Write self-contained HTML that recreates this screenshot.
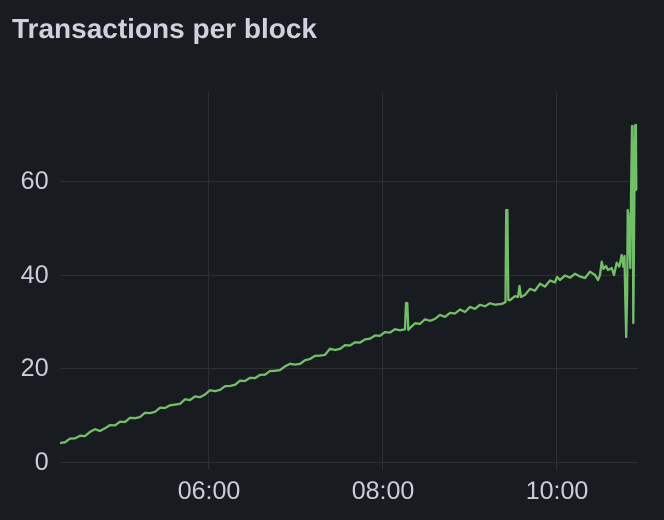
<!DOCTYPE html>
<html><head><meta charset="utf-8"><style>
html,body{margin:0;padding:0;background:#181b1f;}
svg{display:block;}
text{font-family:"Liberation Sans",sans-serif;fill:#ccccdc;}
</style></head><body>
<svg width="664" height="520" viewBox="0 0 664 520" xmlns="http://www.w3.org/2000/svg">
<rect x="0" y="0" width="664" height="520" fill="#181b1f"/>
<text x="12" y="38" font-size="28" font-weight="bold" style="fill:#d0d0de">Transactions per block</text>
<g stroke="#2c2f34" stroke-width="1" shape-rendering="crispEdges">
<line x1="60" y1="181.5" x2="638" y2="181.5"/>
<line x1="60" y1="275.5" x2="638" y2="275.5"/>
<line x1="60" y1="368.5" x2="638" y2="368.5"/>
<line x1="60" y1="462.5" x2="638" y2="462.5"/>
<line x1="208.5" y1="92" x2="208.5" y2="470"/>
<line x1="382.5" y1="92" x2="382.5" y2="470"/>
<line x1="556.5" y1="92" x2="556.5" y2="470"/>
</g>
<g font-size="25" text-anchor="end" letter-spacing="0.3">
<text x="49" y="189">60</text>
<text x="49" y="283">40</text>
<text x="49" y="376">20</text>
<text x="49" y="470">0</text>
</g>
<g font-size="25" text-anchor="middle">
<text x="209" y="499">06:00</text>
<text x="383" y="499">08:00</text>
<text x="557" y="499">10:00</text>
</g>
<path fill="none" stroke="#73bf69" stroke-width="2.3" stroke-linejoin="round" d="M60,443 L65,442.3 L70,438.6 L75,438.4 L80,435.7 L85,436.1 L90,431.9 L95,429.2 L100,431 L105,428.3 L110,425.1 L115,425.4 L120,421.7 L125,422 L130,417.8 L135,418.2 L140,417 L145,412.8 L150,413.1 L155,411.9 L160,407.7 L165,408 L170,405.3 L175,404.6 L180,403.9 L185,399.3 L190,400.1 L195,396.4 L200,397.2 L205,394.5 L210,390.3 L215,391.1 L220,389.9 L225,386.2 L230,386 L235,384.8 L240,380.7 L245,381 L250,377.8 L255,378.1 L260,374.9 L265,374.7 L270,371 L275,370.8 L280,370.1 L285,366.4 L290,363.8 L295,364.6 L300,363.9 L305,360.2 L310,359 L315,355.8 L320,355.6 L325,354.9 L330,348.7 L335,350 L340,348.9 L345,345.2 L350,345.5 L355,342.3 L360,342.6 L365,339.4 L370,338.7 L375,335.5 L380,335.8 L385,332.1 L390,332.6 L395,329.2 L400,330.2 L405,329.2 L406,303 L407.3,303 L408.3,330 L410,328 L415,323.3 L420,323.8 L425,319.3 L430,320.8 L435,318.9 L440,314.9 L445,316.9 L450,312.9 L455,313.5 L460,309.5 L465,312 L470,306.9 L475,308.9 L480,304.8 L485,306.3 L490,303.2 L495,304.7 L500,304.1 L503,303.5 L505.5,302 L506.2,210 L507.4,210 L508.3,300 L510,300.2 L515,296.1 L518,297 L519.5,286 L521,297 L525,294.9 L530,288.8 L535,290.7 L540,283.7 L545,286.6 L550,280.5 L555,282.4 L557,277 L560,280 L565,275.5 L570,277.7 L575,273.8 L580,276.5 L585,278 L590,271.7 L595,275 L598,280 L600,275 L601.7,261.7 L603.5,269 L606,266 L608,270 L611.7,268 L614,275 L616.7,262.7 L619.3,266.7 L621.7,255 L623.3,266.7 L624.5,256 L625.3,300 L626.2,337 L627.2,290 L627.7,210 L628.5,215 L629.3,240 L630.3,268 L631,200 L632,126 L632.6,126 L633.3,323 L634,240 L634.7,160 L635.3,125 L635.9,125 L636.3,190 L636.8,190"/>
</svg>
</body></html>
